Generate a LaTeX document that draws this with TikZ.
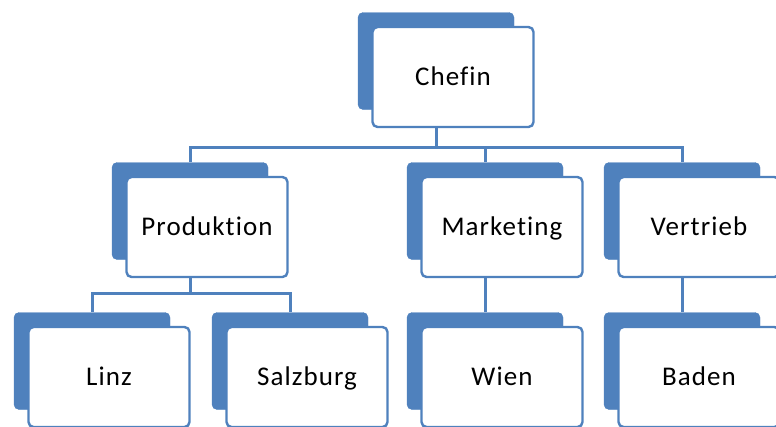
\documentclass[tikz,border=0pt]{standalone}
\usepackage{fontspec}
\setmainfont[LetterSpace=4,Ligatures=NoCommon]{Carlito}
\usepackage{xcolor}
\usepackage{tikz}
\usetikzlibrary{positioning}
\definecolor{orgblue}{HTML}{4F81BD}

\begin{document}
\begin{tikzpicture}[
    x=1pt, y=-1pt,
    unit/.style={rectangle, rounded corners=5pt, draw=orgblue, line width=2.4pt, fill=white,
        minimum width=161pt, minimum height=100pt, text height=19pt, text depth=3pt,
        font=\fontsize{27}{31}\selectfont},
    shadowbox/.style={rectangle, rounded corners=5pt, draw=orgblue, fill=orgblue,
        minimum width=156pt, minimum height=97pt},
    link/.style={draw=orgblue, line width=3pt}
]
\useasboundingbox (0,0) rectangle (776,426);

% Units: shadow first, then the box
\foreach \name/\x/\y/\txt in {chefin/453/77/Chefin, prod/207/227/Produktion,
    mark/502/227/Marketing, vert/699/227/Vertrieb, linz/109/377/Linz,
    salz/307/377/Salzburg, wien/502/377/Wien, baden/699/377/Baden} {
    \node[shadowbox] (\name-s) at (\x-17,\y-16) {};
    \node[unit] (\name) at (\x,\y) {\txt};
}

% Bus lines
\coordinate (bus-top) at (chefin-s |- 0,147);
\coordinate (bus-prod) at (prod-s |- 0,293);

% Connections
\draw[link] (chefin-s |- chefin.south) -- (bus-top);
\foreach \n in {prod,mark,vert} {
    \draw[link] (bus-top) -| (\n-s.north);
}
\draw[link] (prod-s |- prod.south) -- (bus-prod);
\foreach \n in {linz,salz} {
    \draw[link] (bus-prod) -| (\n-s.north);
}
\draw[link] (mark-s |- mark.south) -- (wien-s.north);
\draw[link] (vert-s |- vert.south) -- (baden-s.north);

\end{tikzpicture}
\end{document}
